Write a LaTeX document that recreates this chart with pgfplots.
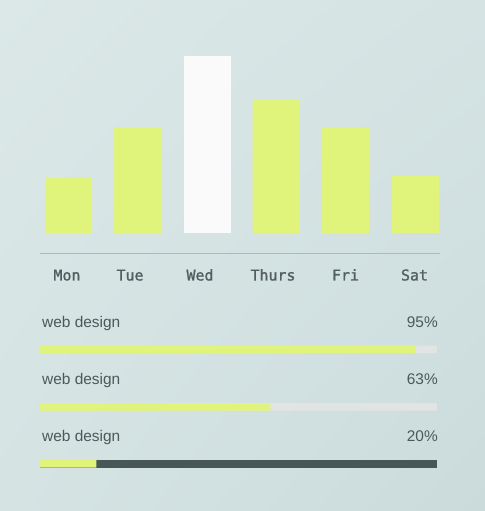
\documentclass[border=0pt]{standalone}
\usepackage{pgfplots}
\pgfplotsset{compat=1.18}
\usetikzlibrary{shadings}
\usepackage{fontspec}
\setmainfont{Liberation Sans}
\newfontfamily\monof[FakeBold=1.2]{DejaVu Sans Mono}
\definecolor{bgA}{HTML}{DCE8E8}
\definecolor{bgB}{HTML}{D5E3E3}
\definecolor{bgC}{HTML}{CBDBDC}
\definecolor{lime}{HTML}{E0F47C}
\definecolor{barwhite}{HTML}{FAFAFA}
\definecolor{trackdark}{HTML}{475758}
\definecolor{tracklight}{HTML}{E2E4E4}
\definecolor{txt}{HTML}{4D5959}
\definecolor{ticktxt}{HTML}{535E5E}
\definecolor{sepline}{HTML}{ABBABA}
\begin{document}
\begin{tikzpicture}[x=1bp,y=1bp]
\shade[upper left=bgA, upper right=bgB, lower left=bgB, lower right=bgC] (0,0) rectangle (485,511);
% bar chart
\begin{axis}[
  at={(40bp,258bp)}, anchor=south west,
  scale only axis, width=400bp, height=213bp,
  xmin=40, xmax=440, ymin=-20, ymax=193,
  axis y line=none, axis x line*=bottom,
  x axis line style={draw=sepline, line width=0.8bp},
  ytick=\empty,
  xtick={67,130,200,273,345.5,414.5},
  xticklabels={Mon,Tue,Wed,Thurs,Fri,Sat},
  major tick length=0pt,
  xticklabel style={anchor=base, yshift=-27.5bp, font=\monof\fontsize{15}{18}\selectfont, text=ticktxt},
  clip=false,
]
\addplot[ybar, bar width=47, bar shift=0pt, fill=lime, draw=none]
  coordinates {(68.5,55) (137.5,105) (276,133) (345.5,105) (415.5,57)};
\addplot[ybar, bar width=47, bar shift=0pt, fill=barwhite, draw=none]
  coordinates {(207.5,177)};
\end{axis}
% progress bars
\begin{axis}[
  at={(40bp,31bp)}, anchor=south west,
  scale only axis, width=397bp, height=180bp,
  xmin=0, xmax=100, ymin=-480, ymax=-300,
  hide axis, clip=false,
]
\addplot[xbar, bar width=7.5, bar shift=0pt, fill=tracklight, draw=none]
  coordinates {(100,-349.5) (100,-407)};
\addplot[xbar, bar width=7.5, bar shift=0pt, fill=trackdark, draw=none]
  coordinates {(100,-464)};
\addplot[xbar, bar width=7.5, bar shift=0pt, fill=lime, draw=none]
  coordinates {(94.7,-349.5) (58,-407) (14.2,-464)};
\end{axis}
\foreach \yy/\pp in {328/95\%, 385/63\%, 442/20\%}{
  \node[anchor=base west, inner sep=0pt, font=\fontsize{15.5}{18}\selectfont, text=txt] at (42,511-\yy) {web design};
  \node[anchor=base east, inner sep=0pt, font=\fontsize{15.5}{18}\selectfont, text=txt] at (438,511-\yy) {\pp};
}
\end{tikzpicture}
\end{document}
